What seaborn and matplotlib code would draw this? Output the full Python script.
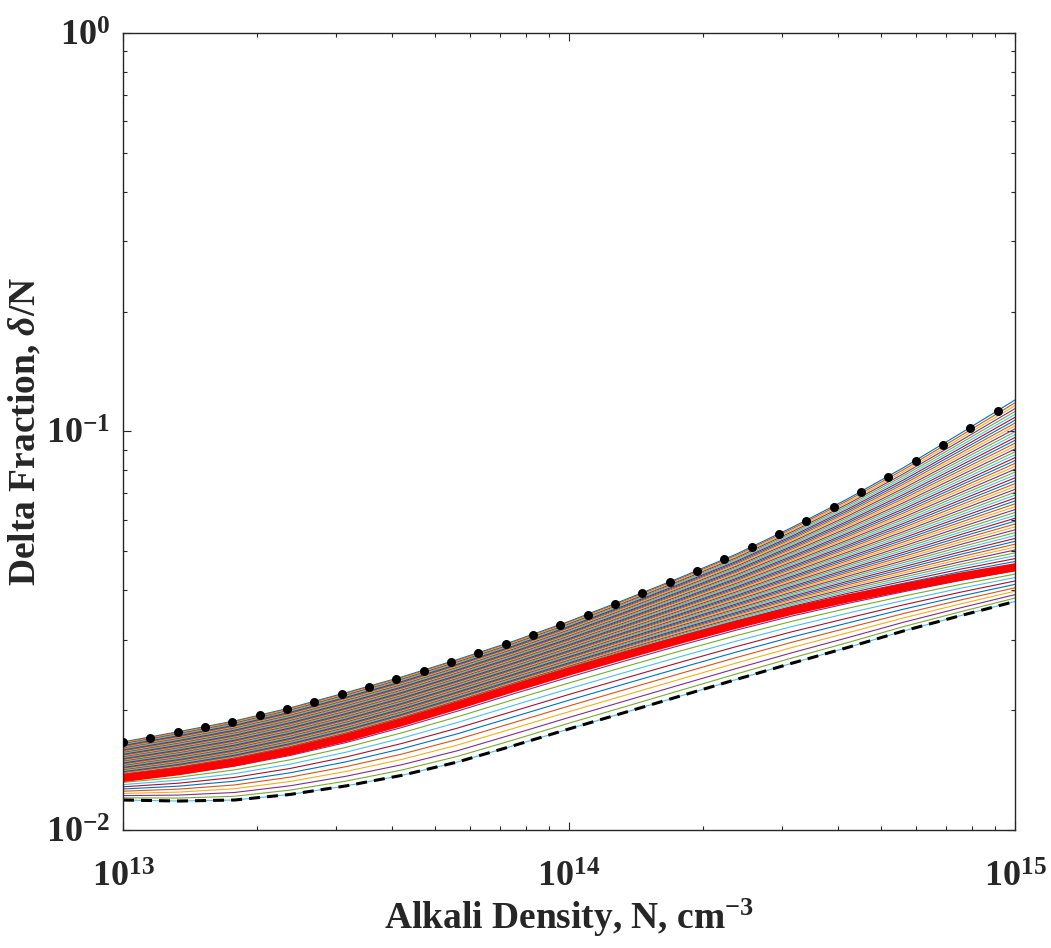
import numpy as np
import pandas as pd
import matplotlib
matplotlib.use("Agg")
import matplotlib.pyplot as plt
import seaborn as sns
from matplotlib.ticker import LogLocator, NullFormatter

# Estilo
sns.set_theme(style="ticks")
plt.rcParams.update({
    'font.family': ['Liberation Serif', 'DejaVu Serif'],
    'font.weight': 'bold',
    'mathtext.fontset': 'custom',
    'mathtext.rm': 'Liberation Serif:bold',
    'mathtext.bf': 'Liberation Serif:bold',
    'mathtext.it': 'Liberation Serif:italic:bold',
    'xtick.direction': 'in', 'ytick.direction': 'in',
    'xtick.top': True, 'ytick.right': True,
    'axes.edgecolor': '#262626', 'axes.linewidth': 1.0,
    'xtick.color': '#262626', 'ytick.color': '#262626',
})

# Dados
grid_N = [1.000e13, 1.334e13, 1.778e13, 2.371e13, 3.162e13, 4.217e13, 5.623e13, 7.499e13,
          1.000e14, 1.334e14, 1.778e14, 2.371e14, 3.162e14, 4.217e14, 5.623e14, 7.499e14, 1.000e15]
top_curve = [0.01663, 0.01765, 0.01877, 0.02025, 0.02211, 0.02421, 0.02678, 0.02976, 0.03338,
             0.03782, 0.04302, 0.04922, 0.05743, 0.06778, 0.08117, 0.09851, 0.1200]
bottom_curve = [0.01189, 0.01182, 0.01189, 0.01228, 0.01290, 0.01371, 0.01481, 0.01627, 0.01793,
                0.01972, 0.02169, 0.02386, 0.02621, 0.02871, 0.03158, 0.03444, 0.03745]
red_curve = [0.01350, 0.01404, 0.01478, 0.01577, 0.01704, 0.01864, 0.02053, 0.02269, 0.02499,
             0.02744, 0.03003, 0.03275, 0.03549, 0.03810, 0.04062, 0.04319, 0.04563]

dots_N = [1.000e13, 1.152e13, 1.326e13, 1.527e13, 1.758e13, 2.025e13, 2.332e13, 2.685e13,
          3.092e13, 3.561e13, 4.101e13, 4.722e13, 5.438e13, 6.262e13, 7.211e13, 8.304e13,
          9.563e13, 1.101e14, 1.268e14, 1.460e14, 1.682e14, 1.937e14, 2.230e14, 2.568e14,
          2.957e14, 3.405e14, 3.922e14, 4.516e14, 5.200e14, 5.988e14, 6.896e14, 7.941e14, 9.145e14]
dots_val = [0.01663, 0.01702, 0.01762, 0.01814, 0.01866, 0.01944, 0.02012, 0.02095, 0.02194,
            0.02285, 0.02393, 0.02510, 0.02640, 0.02780, 0.02929, 0.03085, 0.03268, 0.03463,
            0.03690, 0.03933, 0.04192, 0.04466, 0.04773, 0.05130, 0.05530, 0.05963, 0.06463,
            0.07049, 0.07687, 0.08433, 0.09249, 0.10205, 0.11250]

x_ticks = [1e13, 1e14, 1e15]
x_labels = [r'$\mathbf{10^{13}}$', r'$\mathbf{10^{14}}$', r'$\mathbf{10^{15}}$']
y_ticks = [1e-2, 1e-1, 1e0]
y_labels = [r'$\mathbf{10^{-2}}$', r'$\mathbf{10^{-1}}$', r'$\mathbf{10^{0}}$']

n_thin = 69      # número de curvas finas
red_rank = 10    # posição da curva vermelha contando de baixo

matlab = ['#0072BD', '#D95319', '#EDB120', '#7E2F8E', '#77AC30', '#4DBEEE', '#A2142F']

# Família de curvas entre a inferior e a superior
log_top = np.log10(top_curve)
log_bot = np.log10(bottom_curve)
w_red = (np.log10(red_curve) - log_bot) / (log_top - log_bot)
tr = red_rank / (n_thin - 1)
frames = []
for k in range(n_thin):
    t = 1 - k / (n_thin - 1)
    if t <= tr:
        w = w_red * t / tr
    else:
        w = w_red + (1 - w_red) * (t - tr) / (1 - tr)
    frames.append(pd.DataFrame({'linha': f'c{k:02d}', 'N': grid_N,
                                'val': 10 ** (log_bot + w * (log_top - log_bot))}))
fan = pd.concat(frames, ignore_index=True)

fig = plt.figure(figsize=(10.51, 9.48), dpi=100)
ax = fig.add_axes([0.117, 0.1245, 0.8488, 0.8407])

sns.lineplot(data=fan, x='N', y='val', hue='linha',
             palette=[matlab[k % 7] for k in range(n_thin)],
             estimator=None, sort=False, legend=False, linewidth=0.8, ax=ax)
sns.lineplot(x=grid_N, y=red_curve, color='#FF0000', linewidth=5.8, estimator=None, ax=ax)
sns.lineplot(x=grid_N, y=bottom_curve, color='black', linewidth=2.2, estimator=None, ax=ax)
ax.lines[-1].set_linestyle((0, (3.6, 2.3)))
sns.scatterplot(x=dots_N, y=dots_val, color='black', s=42, linewidth=0, zorder=5, ax=ax)

ax.set_xscale('log')
ax.set_yscale('log')
ax.set_xlim(1e13, 1e15)
ax.set_ylim(1e-2, 1e0)

ax.set_xticks(x_ticks)
ax.set_xticklabels(x_labels)
ax.set_yticks(y_ticks)
ax.set_yticklabels(y_labels)
ax.xaxis.set_minor_locator(LogLocator(base=10, subs=np.arange(2, 10)))
ax.yaxis.set_minor_locator(LogLocator(base=10, subs=np.arange(2, 10)))
ax.xaxis.set_minor_formatter(NullFormatter())
ax.yaxis.set_minor_formatter(NullFormatter())
ax.tick_params(which='major', length=6, width=0.8, labelsize=26)
ax.tick_params(which='minor', length=3, width=0.8)
ax.tick_params(axis='x', which='major', pad=23)
ax.tick_params(axis='y', which='major', pad=9)

ax.set_xlabel(r'Alkali Density, N, cm$^{\mathbf{-3}}$', fontsize=27, fontweight='bold')
ax.set_ylabel(r'Delta Fraction, $\delta$/N', fontsize=27, fontweight='bold')
ax.xaxis.set_label_coords(0.5, -0.084)
ax.yaxis.set_label_coords(-0.089, 0.5)

fig.savefig('out.png', dpi=100)
